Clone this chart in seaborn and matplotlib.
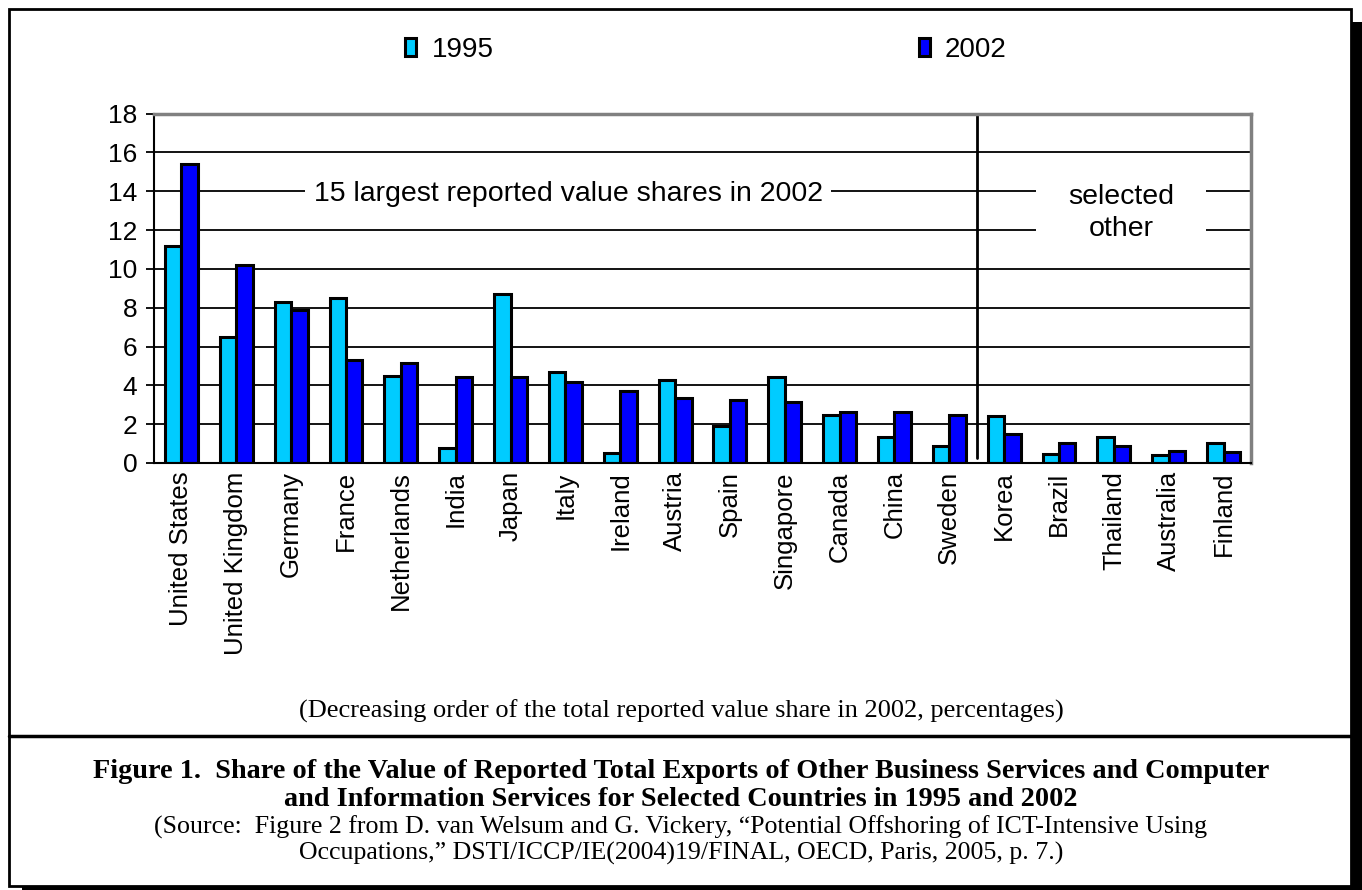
import numpy as np
import pandas as pd
import seaborn as sns
import matplotlib.pyplot as plt
from matplotlib.patches import Rectangle
from matplotlib.lines import Line2D

countries = ["United States", "United Kingdom", "Germany", "France", "Netherlands",
             "India", "Japan", "Italy", "Ireland", "Austria", "Spain", "Singapore",
             "Canada", "China", "Sweden", "Korea", "Brazil", "Thailand", "Australia",
             "Finland"]
share_1995 = [11.2, 6.5, 8.3, 8.5, 4.5, 0.75, 8.7, 4.7, 0.5, 4.25, 1.9, 4.45,
              2.45, 1.35, 0.9, 2.4, 0.45, 1.35, 0.4, 1.05]
share_2002 = [15.4, 10.2, 7.9, 5.3, 5.15, 4.45, 4.45, 4.15, 3.7, 3.35, 3.25, 3.15,
              2.65, 2.65, 2.45, 1.5, 1.05, 0.9, 0.6, 0.55]
years = ["1995", "2002"]
y_ticks = list(range(0, 20, 2))

df = pd.DataFrame({
    "country": countries * 2,
    "share": share_1995 + share_2002,
    "year": [years[0]] * len(countries) + [years[1]] * len(countries),
})

sns.set_style("white")
plt.rcParams["font.family"] = ["Liberation Sans", "DejaVu Sans"]
plt.rcParams["text.color"] = "black"
plt.rcParams["xtick.color"] = "black"
plt.rcParams["ytick.color"] = "black"
plt.rcParams["axes.labelcolor"] = "black"

W, H = 1362, 890
fig = plt.figure(figsize=(W / 100, H / 100), dpi=100)

# page frame with drop shadow
fig.patches.append(Rectangle((22 / W, 0), 1, 1 - 22 / H, transform=fig.transFigure,
                             facecolor="black", edgecolor="none", zorder=0))
fig.patches.append(Rectangle((9 / W, 1 - 886 / H), (1351 - 9) / W, (886 - 9) / H,
                             transform=fig.transFigure, facecolor="white",
                             edgecolor="black", linewidth=2, zorder=0.5))
fig.lines.append(Line2D([9 / W, 1351 / W], [1 - 735.5 / H, 1 - 735.5 / H],
                        transform=fig.transFigure, color="black", linewidth=2.5))

ax = fig.add_axes([154 / W, 1 - 463 / H, (1251 - 154) / W, (463 - 113.5) / H])
ax.set_zorder(2)

sns.barplot(data=df, x="country", y="share", hue="year", order=countries,
            hue_order=years, palette=["#00CCFF", "#0000FF"], width=0.6, gap=0,
            edgecolor="black", linewidth=2.2, saturation=1, ax=ax, legend=True)

ax.set_xlim(-0.5, len(countries) - 0.5)
ax.set_ylim(0, 18)
ax.set_yticks(y_ticks)
ax.set_yticklabels([str(t) for t in y_ticks], fontsize=19)
ax.set_xticks(range(len(countries)))
ax.set_xticklabels(countries, rotation=90, fontsize=18.5)
ax.set_xticks(np.arange(-0.5, len(countries), 1), minor=True)
ax.tick_params(axis="x", which="major", length=0, pad=6)
ax.tick_params(axis="x", which="minor", length=6, width=1.3, color="black", direction="out")
ax.tick_params(axis="y", length=6, width=1.3, color="black", direction="out", pad=6, left=True)
ax.set_xlabel("")
ax.set_ylabel("")

ax.set_axisbelow(True)
ax.yaxis.grid(True, color="black", linewidth=1.3)
for side in ("top", "right"):
    ax.spines[side].set_color("#808080")
    ax.spines[side].set_linewidth(2.5)
for side in ("left", "bottom"):
    ax.spines[side].set_color("black")
    ax.spines[side].set_linewidth(1.5)

# divider between the 15 largest and the other selected countries
ax.plot([14.5, 14.5], [0.25, 18], color="black", linewidth=2, zorder=1.5)

ax.text(7.05, 13.85, "15 largest reported value shares in 2002", fontsize=20.5,
        ha="center", va="center", zorder=3,
        bbox=dict(boxstyle="square,pad=0.3", facecolor="white", edgecolor="none"))
ax.add_patch(Rectangle((15.58, 11.3), 3.1, 3.4, facecolor="white", edgecolor="none", zorder=2))
ax.text(17.13, 12.85, "selected\nother", fontsize=20.5, ha="center", va="center",
        linespacing=1.3, zorder=3)

handles, labels = ax.get_legend_handles_labels()
ax.get_legend().remove()
fig.legend(handles, labels, loc="center", bbox_to_anchor=(706 / W, 1 - 50 / H),
           ncol=2, frameon=False, fontsize=20, handlelength=0.4, handleheight=0.6,
           handletextpad=0.55, columnspacing=15.3)

serif = ["Liberation Serif", "DejaVu Serif"]
fig.text(0.5, 1 - 711 / H, "(Decreasing order of the total reported value share in 2002, percentages)",
         ha="center", va="center", fontsize=19, family=serif)
fig.text(0.5, 1 - 772 / H,
         "Figure 1.  Share of the Value of Reported Total Exports of Other Business Services and Computer",
         ha="center", va="center", fontsize=20.3, fontweight="bold", family=serif)
fig.text(0.5, 1 - 800 / H,
         "and Information Services for Selected Countries in 1995 and 2002",
         ha="center", va="center", fontsize=20.3, fontweight="bold", family=serif)
fig.text(0.5, 1 - 827 / H,
         "(Source:  Figure 2 from D. van Welsum and G. Vickery, \u201cPotential Offshoring of ICT-Intensive Using",
         ha="center", va="center", fontsize=18.6, family=serif)
fig.text(0.5, 1 - 853 / H,
         "Occupations,\u201d DSTI/ICCP/IE(2004)19/FINAL, OECD, Paris, 2005, p. 7.)",
         ha="center", va="center", fontsize=18.6, family=serif)

fig.savefig("out.png", dpi=100, facecolor="white")
